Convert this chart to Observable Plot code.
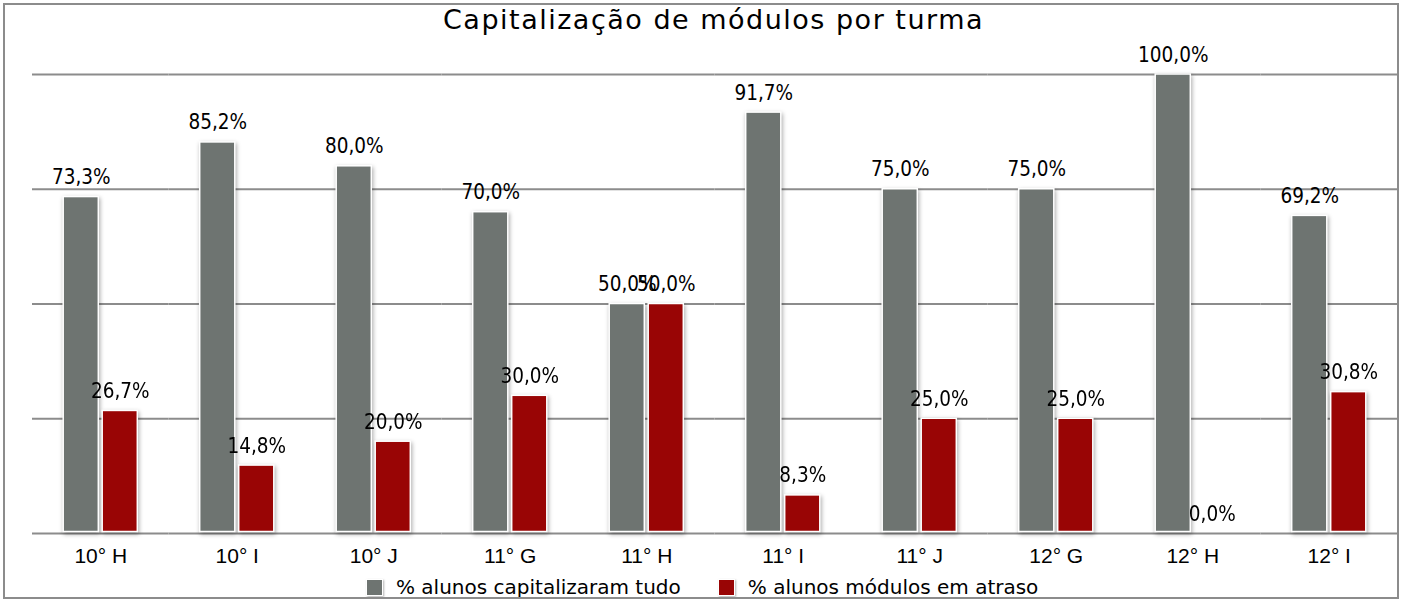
<!DOCTYPE html>
<html>
<head>
<meta charset="utf-8">
<script src="https://cdn.jsdelivr.net/npm/d3@7"></script>
<script src="https://cdn.jsdelivr.net/npm/@observablehq/plot@0.6"></script>
<style>
  html, body { margin: 0; padding: 0; background: #fff; }
  #page { position: relative; width: 1404px; height: 599px; overflow: hidden; background: #fff; }
  #frame { position: absolute; left: 3px; top: 3px; width: 1396px; height: 596px; box-sizing: border-box; border: 2px solid #8c8c8c; pointer-events: none; }
  #title { position: absolute; left: 0; top: 0; width: 1427px; text-align: center; font-family: "DejaVu Sans", sans-serif; font-size: 27px; letter-spacing: 1.5px; line-height: 40px; color: #000; }
  #chart { position: absolute; left: 0; top: 40px; }
  #legend { position: absolute; left: 366px; top: 577px; display: flex; align-items: center; font-family: "DejaVu Sans", sans-serif; font-size: 20px; line-height: 20px; color: #000; }
  .key { display: flex; align-items: center; margin-right: 37px; }
  .sw { width: 17px; height: 17px; box-sizing: border-box; border: 1px solid #fff; box-shadow: 1px 1px 2px rgba(0,0,0,0.3); margin-right: 13px; }
</style>
</head>
<body>
<div id="page">
  <div id="chart"></div>
  <div id="title">Capitalização de módulos por turma</div>
  <div id="legend"></div>
  <div id="frame"></div>
</div>
<script>
// ---- data ----
const categories = ["10° H", "10° I", "10° J", "11° G", "11° H", "11° I", "11° J", "12° G", "12° H", "12° I"];
const seriesNames = ["% alunos capitalizaram tudo", "% alunos módulos em atraso"];
const seriesColors = ["#6e7471", "#990505"];
const capitalizaram = [73.3, 85.2, 80.0, 70.0, 50.0, 91.7, 75.0, 75.0, 100.0, 69.2];
const emAtraso = [26.7, 14.8, 20.0, 30.0, 50.0, 8.3, 25.0, 25.0, 0.0, 30.8];
const gridTicks = [0, 25, 50, 75, 100];

// ---- table ----
const rows = [];
categories.forEach((c, i) => {
  rows.push({cat: c, series: seriesNames[0], value: capitalizaram[i]});
  rows.push({cat: c, series: seriesNames[1], value: emAtraso[i]});
});
const fmt = v => v.toFixed(1).replace(".", ",") + "%";

const chart = Plot.plot({
  width: 1404,
  height: 535,
  marginTop: 34,
  marginBottom: 42,
  marginLeft: 32,
  marginRight: 7,
  style: {fontFamily: "'Liberation Sans', Arial, sans-serif", fontSize: "21px", color: "#000", background: "transparent", overflow: "visible"},
  fx: {domain: categories, padding: 0, round: false, axis: "bottom", tickSize: 0, tickPadding: 15, label: null},
  x: {domain: seriesNames, axis: null, round: false, paddingInner: 0.1, paddingOuter: 0.8},
  y: {domain: [0, 100], axis: null},
  color: {domain: seriesNames, range: seriesColors},
  marks: [
    Plot.ruleY(gridTicks, {stroke: "#8c8c8c", strokeWidth: 2}),
    Plot.barY(rows, {fx: "cat", x: "series", y: "value", fill: "series", stroke: "#ffffff", strokeWidth: 1.5, insetBottom: 1.5, filter: d => d.value > 0}),
    Plot.text(rows, {fx: "cat", x: "series", y: "value", text: d => fmt(d.value), dy: -13, lineAnchor: "bottom", fontSize: 20.5, fontFamily: "'DejaVu Sans Condensed', 'DejaVu Sans', sans-serif", fill: "#000"})
  ]
});
d3.select(chart).selectAll('g[aria-label="bar"]').style("filter", "drop-shadow(1px 2px 2px rgba(0,0,0,0.35))");
d3.select(chart).selectAll('g[aria-label="text"]').style("font-stretch", "condensed");
document.getElementById("chart").appendChild(chart);

// ---- legend ----
const lg = d3.select("#legend");
seriesNames.forEach((s, i) => {
  const k = lg.append("div").attr("class", "key");
  k.append("div").attr("class", "sw").style("background", seriesColors[i]);
  k.append("span").text(s);
});
</script>
</body>
</html>
